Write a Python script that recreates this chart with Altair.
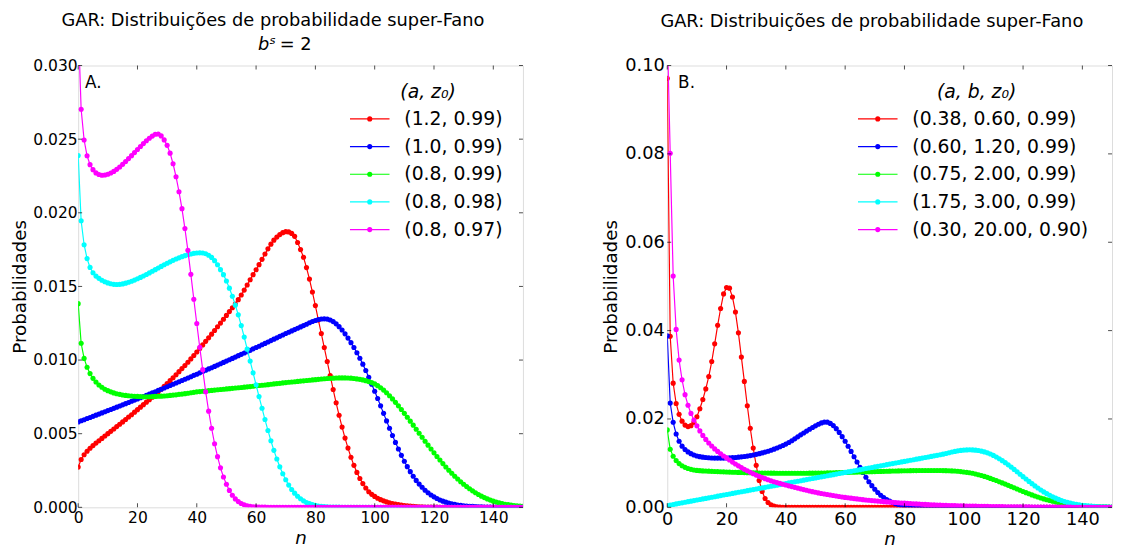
import altair as alt
import pandas as pd

# n values (x axis categories)
N = list(range(151))

# ---------------- Panel A (values in units of 1e-5) ----------------
A_RED = [
    273, 325, 357, 381, 401, 419, 436, 452, 468, 484,
    500, 516, 532, 548, 564, 580, 596, 613, 629, 646,
    663, 680, 697, 714, 731, 748, 766, 784, 802, 821,
    840, 860, 880, 900, 921, 942, 963, 985, 1008, 1031,
    1055, 1079, 1103, 1127, 1151, 1176, 1201, 1226, 1251, 1277,
    1303, 1329, 1355, 1381, 1410, 1442, 1475, 1510, 1545, 1580,
    1613, 1648, 1684, 1720, 1755, 1787, 1814, 1835, 1852, 1865,
    1872, 1870, 1860, 1840, 1798, 1750, 1698, 1628, 1550, 1462,
    1370, 1272, 1180, 1085, 990, 895, 800, 710, 625, 545,
    470, 402, 340, 285, 237, 196, 161, 131, 106, 88,
    74, 62, 52, 44, 37, 31, 26, 22, 18, 15,
    12, 10, 8, 6, 5, 4, 3, 2, 2, 1,
    1, 1, 0, 0, 0, 0, 0, 0, 0, 0,
    0, 0, 0, 0, 0, 0, 0, 0, 0, 0,
    0, 0, 0, 0, 0, 0, 0, 0, 0, 0,
    0,
]
A_BLUE = [
    580, 588, 595, 603, 610, 618, 626, 633, 641, 649,
    657, 664, 672, 680, 688, 696, 704, 712, 720, 728,
    736, 744, 752, 761, 769, 777, 785, 794, 802, 810,
    819, 827, 836, 844, 853, 861, 870, 878, 887, 896,
    904, 913, 922, 931, 940, 948, 957, 966, 975, 984,
    993, 1002, 1011, 1020, 1030, 1039, 1048, 1057, 1066, 1076,
    1085, 1094, 1104, 1113, 1123, 1132, 1142, 1151, 1161, 1170,
    1180, 1189, 1198, 1207, 1216, 1225, 1234, 1243, 1253, 1262,
    1269, 1275, 1279, 1280, 1278, 1272, 1261, 1246, 1227, 1204,
    1178, 1149, 1118, 1085, 1050, 1012, 972, 929, 883, 836,
    788, 739, 689, 638, 587, 537, 488, 441, 396, 353,
    313, 276, 242, 211, 183, 158, 136, 116, 99, 84,
    71, 60, 50, 42, 35, 29, 24, 20, 16, 13,
    11, 9, 7, 6, 5, 4, 3, 2, 2, 1,
    1, 1, 0, 0, 0, 0, 0, 0, 0, 0,
    0,
]
A_GREEN = [
    1383, 1114, 1011, 951, 908, 876, 851, 831, 815, 802,
    792, 784, 777, 771, 767, 763, 760, 758, 756, 754,
    753, 752, 751, 751, 751, 752, 753, 754, 755, 756,
    758, 760, 762, 764, 767, 769, 772, 775, 778, 781,
    784, 786, 788, 790, 792, 794, 796, 798, 800, 802,
    804, 806, 808, 810, 812, 814, 816, 818, 820, 822,
    825, 827, 829, 831, 833, 836, 838, 840, 842, 845,
    847, 849, 851, 853, 855, 857, 859, 861, 863, 865,
    867, 869, 871, 873, 875, 876, 877, 878, 879, 879,
    879, 878, 877, 875, 872, 869, 865, 860, 854, 847,
    838, 826, 812, 796, 778, 758, 736, 713, 689, 664,
    638, 612, 585, 558, 530, 503, 476, 449, 422, 396,
    370, 345, 321, 297, 274, 252, 231, 211, 192, 174,
    157, 141, 126, 112, 99, 87, 76, 66, 57, 49,
    42, 36, 30, 25, 21, 18, 15, 12, 10, 8,
    7,
]
A_CYAN = [
    2389, 1946, 1783, 1689, 1629, 1593, 1570, 1555, 1542, 1532,
    1524, 1518, 1514, 1513, 1514, 1517, 1522, 1528, 1535, 1543,
    1552, 1561, 1571, 1581, 1592, 1603, 1614, 1625, 1636, 1647,
    1657, 1667, 1677, 1686, 1694, 1702, 1709, 1715, 1720, 1724,
    1727, 1728, 1727, 1722, 1712, 1697, 1675, 1647, 1614, 1580,
    1537, 1488, 1433, 1373, 1307, 1234, 1156, 1074, 993, 913,
    832, 752, 673, 596, 522, 452, 387, 328, 275, 228,
    187, 151, 121, 96, 75, 58, 44, 33, 25, 18,
    13, 9, 7, 5, 3, 2, 2, 1, 1, 0,
    0, 0, 0, 0, 0, 0, 0, 0, 0, 0,
    0, 0, 0, 0, 0, 0, 0, 0, 0, 0,
    0, 0, 0, 0, 0, 0, 0, 0, 0, 0,
    0, 0, 0, 0, 0, 0, 0, 0, 0, 0,
    0, 0, 0, 0, 0, 0, 0, 0, 0, 0,
    0, 0, 0, 0, 0, 0, 0, 0, 0, 0,
    0,
]
A_MAGENTA = [
    3300, 2703, 2494, 2387, 2327, 2293, 2271, 2260, 2255, 2257,
    2262, 2270, 2281, 2295, 2311, 2329, 2348, 2368, 2388, 2409,
    2430, 2450, 2470, 2489, 2506, 2521, 2533, 2535, 2522, 2495,
    2458, 2405, 2333, 2245, 2143, 2028, 1893, 1745, 1582, 1413,
    1248, 1087, 935, 785, 653, 537, 432, 344, 268, 206,
    157, 115, 82, 57, 39, 26, 17, 11, 7, 4,
    3, 2, 1, 1, 0, 0, 0, 0, 0, 0,
    0, 0, 0, 0, 0, 0, 0, 0, 0, 0,
    0, 0, 0, 0, 0, 0, 0, 0, 0, 0,
    0, 0, 0, 0, 0, 0, 0, 0, 0, 0,
    0, 0, 0, 0, 0, 0, 0, 0, 0, 0,
    0, 0, 0, 0, 0, 0, 0, 0, 0, 0,
    0, 0, 0, 0, 0, 0, 0, 0, 0, 0,
    0, 0, 0, 0, 0, 0, 0, 0, 0, 0,
    0, 0, 0, 0, 0, 0, 0, 0, 0, 0,
    0,
]

# ---------------- Panel B (values in units of 1e-5) ----------------
B_RED = [
    9709, 3870, 2810, 2350, 2105, 1950, 1862, 1827, 1849, 1924,
    2050, 2230, 2440, 2680, 2960, 3300, 3700, 4120, 4500, 4830,
    4975, 4960, 4760, 4420, 3950, 3400, 2850, 2300, 1790, 1340,
    950, 610, 360, 200, 110, 58, 29, 14, 6, 3,
    1, 0, 0, 0, 0, 0, 0, 0, 0, 0,
    0, 0, 0, 0, 0, 0, 0, 0, 0, 0,
    0, 0, 0, 0, 0, 0, 0, 0, 0, 0,
    0, 0, 0, 0, 0, 0, 0, 0, 0, 0,
    0, 0, 0, 0, 0, 0, 0, 0, 0, 0,
    0, 0, 0, 0, 0, 0, 0, 0, 0, 0,
    0, 0, 0, 0, 0, 0, 0, 0, 0, 0,
    0, 0, 0, 0, 0, 0, 0, 0, 0, 0,
    0, 0, 0, 0, 0, 0, 0, 0, 0, 0,
    0, 0, 0, 0, 0, 0, 0, 0, 0, 0,
    0, 0, 0, 0, 0, 0, 0, 0, 0, 0,
    0,
]
B_BLUE = [
    3880, 2360, 1925, 1660, 1495, 1385, 1310, 1255, 1215, 1185,
    1163, 1147, 1135, 1127, 1121, 1117, 1115, 1114, 1114, 1115,
    1117, 1120, 1124, 1129, 1135, 1142, 1150, 1160, 1171, 1185,
    1200, 1215, 1232, 1250, 1270, 1292, 1316, 1342, 1370, 1400,
    1432, 1468, 1508, 1550, 1595, 1640, 1683, 1725, 1766, 1806,
    1845, 1880, 1910, 1930, 1928, 1900, 1850, 1780, 1695, 1600,
    1495, 1383, 1265, 1145, 1025, 905, 790, 680, 580, 490,
    408, 336, 274, 221, 176, 139, 108, 83, 63, 48,
    36, 27, 20, 15, 11, 8, 6, 4, 3, 2,
    2, 1, 1, 0, 0, 0, 0, 0, 0, 0,
    0, 0, 0, 0, 0, 0, 0, 0, 0, 0,
    0, 0, 0, 0, 0, 0, 0, 0, 0, 0,
    0, 0, 0, 0, 0, 0, 0, 0, 0, 0,
    0, 0, 0, 0, 0, 0, 0, 0, 0, 0,
    0, 0, 0, 0, 0, 0, 0, 0, 0, 0,
    0,
]
B_GREEN = [
    1752, 1315, 1155, 1060, 990, 940, 905, 878, 860, 846,
    835, 830, 825, 821, 818, 815, 812, 809, 806, 803,
    800, 798, 795, 793, 790, 788, 786, 784, 782, 780,
    779, 778, 777, 776, 775, 774, 773, 772, 771, 771,
    770, 770, 770, 770, 770, 770, 771, 772, 773, 774,
    775, 776, 777, 778, 779, 781, 782, 784, 786, 787,
    789, 791, 793, 795, 797, 799, 801, 803, 805, 807,
    809, 811, 813, 815, 817, 819, 821, 823, 825, 826,
    828, 829, 830, 831, 832, 833, 833, 834, 834, 834,
    834, 834, 833, 832, 830, 828, 825, 821, 816, 809,
    800, 792, 782, 770, 755, 738, 720, 700, 678, 655,
    631, 606, 580, 553, 526, 498, 470, 442, 414, 386,
    359, 332, 306, 281, 257, 234, 212, 191, 172, 154,
    137, 122, 108, 95, 83, 72, 63, 54, 47, 40,
    34, 29, 25, 21, 18, 15, 13, 11, 9, 8,
    6,
]
B_CYAN = [
    40, 52, 65, 78, 90, 102, 115, 128, 140, 152,
    165, 178, 190, 202, 215, 228, 240, 252, 265, 278,
    290, 302, 315, 328, 340, 352, 365, 378, 390, 402,
    415, 428, 440, 452, 465, 478, 490, 502, 515, 528,
    540, 552, 565, 578, 590, 602, 615, 628, 640, 652,
    665, 678, 690, 702, 715, 728, 740, 752, 765, 778,
    790, 802, 815, 828, 840, 852, 865, 878, 890, 902,
    915, 928, 940, 952, 965, 978, 990, 1002, 1015, 1028,
    1040, 1052, 1065, 1078, 1090, 1102, 1115, 1128, 1140, 1152,
    1165, 1177, 1190, 1203, 1219, 1235, 1252, 1266, 1278, 1288,
    1295, 1300, 1302, 1300, 1294, 1285, 1272, 1255, 1233, 1206,
    1175, 1140, 1100, 1057, 1011, 962, 911, 858, 804, 749,
    694, 640, 587, 535, 485, 437, 392, 349, 309, 272,
    238, 207, 179, 154, 132, 112, 95, 80, 67, 56,
    47, 39, 32, 26, 21, 17, 14, 11, 9, 7,
    6,
]
B_MAGENTA = [
    10800, 8015, 5234, 4027, 3333, 2886, 2550, 2311, 2125, 1975,
    1845, 1730, 1628, 1537, 1457, 1387, 1323, 1265, 1212, 1163,
    1118, 1070, 1024, 980, 939, 900, 863, 828, 794, 761,
    730, 702, 675, 649, 624, 600, 580, 560, 541, 523,
    505, 487, 469, 452, 435, 418, 402, 386, 370, 355,
    340, 327, 314, 302, 290, 278, 267, 256, 245, 235,
    225, 216, 207, 198, 190, 182, 174, 167, 160, 153,
    147, 141, 135, 129, 123, 118, 113, 108, 103, 99,
    95, 90, 86, 82, 78, 74, 70, 66, 62, 58,
    55, 52, 49, 47, 44, 42, 40, 38, 36, 34,
    32, 30, 29, 27, 26, 24, 23, 22, 20, 19,
    18, 17, 16, 15, 14, 13, 13, 12, 11, 11,
    10, 9, 9, 8, 8, 7, 7, 6, 6, 6,
    5, 5, 5, 4, 4, 4, 4, 3, 3, 3,
    3, 2, 2, 2, 2, 2, 2, 1, 1, 1,
    1,
]

A_LABELS = ["(1.2, 0.99)", "(1.0, 0.99)", "(0.8, 0.99)", "(0.8, 0.98)", "(0.8, 0.97)"]
B_LABELS = ["(0.38, 0.60, 0.99)", "(0.60, 1.20, 0.99)", "(0.75, 2.00, 0.99)",
            "(1.75, 3.00, 0.99)", "(0.30, 20.00, 0.90)"]
A_LEGEND_TITLE = ["(a, z\u2080)"]
B_LEGEND_TITLE = ["(a, b, z\u2080)"]
TITLE = "GAR: Distribuições de probabilidade super-Fano"
COLORS = ["#ff0000", "#0000ff", "#00ff00", "#00ffff", "#ff00ff"]
X_TICKS = [0, 20, 40, 60, 80, 100, 120, 140]
A_Y_TICKS = [0.0, 0.005, 0.010, 0.015, 0.020, 0.025, 0.030]
B_Y_TICKS = [0.0, 0.02, 0.04, 0.06, 0.08, 0.10]

for arr in [A_RED, A_BLUE, A_GREEN, A_CYAN, A_MAGENTA, B_RED, B_BLUE, B_GREEN, B_CYAN, B_MAGENTA]:
    assert len(arr) == len(N), len(arr)

W, H = 450, 447
FONT = "DejaVu Sans"
TL = 4  # inward tick length
DOT = 27  # marker area


def panel(series, labels, ymax, yticks, yfmt, lab_fs, ylab_pad, ytitle_pad, xtitle_pad,
          leg_line_x, leg_text_x, leg_title_x, leg_title, letter, letter_x,
          title_dx, title_offset, subtitle=False):
    rows = []
    for lab, vals in zip(labels, series):
        for n, v in zip(N, vals):
            rows.append({"n": n, "p": v * 1e-5, "series": lab})
    df = pd.DataFrame(rows)

    xs = alt.Scale(domain=[0, 150], nice=False, zero=False)
    ys = alt.Scale(domain=[0, ymax], nice=False, zero=False)
    xaxis = alt.Axis(values=X_TICKS, ticks=False, domain=False, grid=False,
                     labelFontSize=lab_fs, labelFont=FONT, labelColor="black",
                     labelPadding=3, labelFlush=False,
                     title="n", titleFont=FONT, titleFontSize=18.5, titleFontStyle="italic",
                     titleFontWeight="normal", titleColor="black", titlePadding=xtitle_pad)
    yaxis = alt.Axis(values=yticks, format=yfmt, ticks=False, domain=False, grid=False,
                     labelFontSize=lab_fs, labelFont=FONT, labelColor="black",
                     labelPadding=ylab_pad, labelFlush=False,
                     title="Probabilidades", titleFont=FONT, titleFontSize=18.5,
                     titleFontWeight="normal", titleColor="black", titlePadding=ytitle_pad)

    layers = []
    for i, (lab, col) in enumerate(zip(labels, COLORS)):
        sub = alt.Chart(df).transform_filter(alt.FieldEqualPredicate(field="series", equal=lab))
        line = sub.mark_line(color=col, strokeWidth=1.2, clip=True).encode(
            x=alt.X("n:Q", scale=xs, axis=xaxis),
            y=alt.Y("p:Q", scale=ys, axis=yaxis if i == 0 else None),
        )
        pts = sub.mark_circle(color=col, size=DOT, opacity=1, clip=True).encode(
            x=alt.X("n:Q", scale=xs, axis=xaxis),
            y=alt.Y("p:Q", scale=ys, axis=None),
        )
        layers += [line, pts]

    # inward ticks on all four sides
    xt = pd.DataFrame({"t": X_TICKS})
    yt = pd.DataFrame({"t": yticks})
    for ypos in [H - TL / 2, TL / 2]:
        layers.append(alt.Chart(xt).mark_tick(orient="vertical", size=TL, thickness=1, color="black").encode(
            x=alt.X("t:Q", scale=xs, axis=xaxis), y=alt.value(ypos)))
    for xpos in [TL / 2, W - TL / 2]:
        layers.append(alt.Chart(yt).mark_tick(orient="horizontal", size=TL, thickness=1, color="black").encode(
            y=alt.Y("t:Q", scale=ys, axis=None), x=alt.value(xpos)))

    # legend
    leg_df = pd.DataFrame({"label": labels})
    ly = alt.Y("label:N", scale=alt.Scale(type="point", domain=labels, range=[54, 166], padding=0), axis=None)
    lc = alt.Color("label:N", scale=alt.Scale(domain=labels, range=COLORS), legend=None)
    layers.append(alt.Chart(leg_df).mark_rule(strokeWidth=1.2).encode(
        x=alt.value(leg_line_x), x2=alt.value(leg_line_x + 40), y=ly, color=lc))
    layers.append(alt.Chart(leg_df).mark_circle(size=DOT, opacity=1).encode(
        x=alt.value(leg_line_x + 20), y=ly, color=lc))
    layers.append(alt.Chart(leg_df).mark_text(align="left", baseline="middle", fontSize=19, font=FONT,
                                              color="black").encode(
        x=alt.value(leg_text_x), y=ly, text="label:N"))
    layers.append(alt.Chart(pd.DataFrame({"t": leg_title})).mark_text(
        align="center", baseline="middle", fontSize=19, font=FONT, fontStyle="italic", color="black").encode(
        x=alt.value(leg_title_x), y=alt.value(27), text="t:N"))
    layers.append(alt.Chart(pd.DataFrame({"t": [letter]})).mark_text(
        align="left", baseline="alphabetic", fontSize=17, font=FONT, color="black").encode(
        x=alt.value(letter_x), y=alt.value(23), text="t:N"))

    if subtitle:
        layers.append(alt.Chart(pd.DataFrame({"t": ["b\u02e2"]})).mark_text(
            align="left", baseline="alphabetic", fontSize=18, font=FONT, fontStyle="italic",
            color="black").encode(x=alt.value(182), y=alt.value(-16), text="t:N"))
        layers.append(alt.Chart(pd.DataFrame({"t": ["= 2"]})).mark_text(
            align="left", baseline="alphabetic", fontSize=18, font=FONT, color="black").encode(
            x=alt.value(204), y=alt.value(-16), text="t:N"))

    return alt.layer(*layers).resolve_scale(y="independent").properties(
        width=W, height=H,
        title=alt.TitleParams(text=TITLE, fontSize=18, font=FONT, fontWeight="normal", color="black",
                              anchor="middle", frame="group", dx=title_dx, offset=title_offset),
    )


left = panel([A_RED, A_BLUE, A_GREEN, A_CYAN, A_MAGENTA], A_LABELS, 0.030, A_Y_TICKS, ".3f", 15.7,
             1, 3, 4, 275, 330, 354, A_LEGEND_TITLE, "A.", 7, -28, 6, subtitle=True)
right = panel([B_RED, B_BLUE, B_GREEN, B_CYAN, B_MAGENTA], B_LABELS, 0.10, B_Y_TICKS, ".2f", 18,
              3, 4, 2, 193, 248, 313, B_LEGEND_TITLE, "B.", 11, -18, 26)

chart = alt.hconcat(left, right, spacing=78).properties(
    padding={"left": 2, "top": 0, "right": 0, "bottom": 0}
).configure_view(stroke="black", strokeWidth=1).configure(background="white")

chart.save("out.html", embed_options={"renderer": "svg", "actions": False})
